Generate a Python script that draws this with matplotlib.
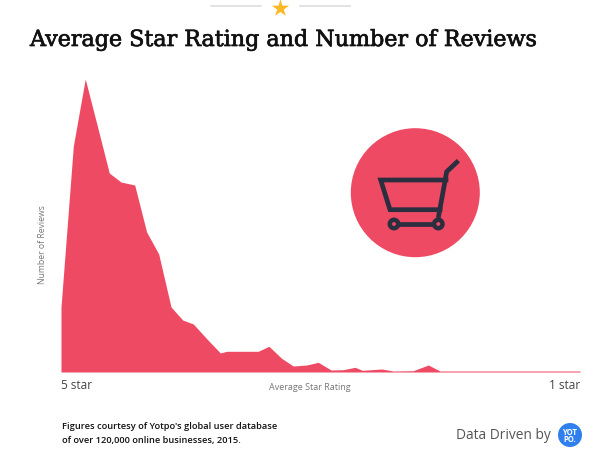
import matplotlib
matplotlib.use('Agg')
import matplotlib.pyplot as plt
import matplotlib.patheffects as pe
from matplotlib.patches import Circle

# values
ratings = [5.0, 4.905, 4.813, 4.72, 4.628, 4.538, 4.432, 4.34, 4.247, 4.152, 4.062, 3.98,
           3.875, 3.772, 3.723, 3.48, 3.397, 3.30, 3.21, 3.106, 3.017, 2.919, 2.824, 2.734,
           2.678, 2.528, 2.439, 2.285, 2.169, 2.079, 1.0]
reviews = [65, 226, 293, 246, 199, 190, 187, 140, 118, 65, 52, 48,
           33, 19, 20.7, 20.7, 25.7, 13.7, 6, 7, 9.7, 2, 2.3, 4.7,
           1.7, 3, 1, 1.3, 7, 1, 1]
x_tick_labels = ['5 star', '1 star']

W, H = 613, 464
red = '#EE4A64'
dark = '#2B2E3F'
plt.rcParams['font.family'] = ['Open Sans', 'DejaVu Sans']

fig = plt.figure(figsize=(W / 100, H / 100), dpi=100)

# overlay in pixel coordinates for the decoration
deco = fig.add_axes([0, 0, 1, 1])
deco.set_xlim(0, W)
deco.set_ylim(H, 0)
deco.axis('off')

# chart area
ax = fig.add_axes([61 / W, 1 - 373 / H, 519 / W, 293 / H])
ax.patch.set_alpha(0)
ax.fill_between(ratings, reviews, 0, color=red, lw=0)
ax.set_xlim(5, 1)
ax.set_ylim(0, 293)
for s in ax.spines.values():
    s.set_visible(False)
ax.set_yticks([])
ax.set_xticks([5, 1])
ax.set_xticklabels(x_tick_labels, fontsize=8.5, color='#444444')
ax.tick_params(axis='x', length=0, pad=4)
ax.get_xticklabels()[0].set_ha('left')
ax.get_xticklabels()[1].set_ha('right')
ax.set_xlabel('Average Star Rating', fontsize=6.5, color='#777777')
ax.xaxis.set_label_coords(249 / 519, -10 / 293)
ax.set_ylabel('Number of Reviews', fontsize=6.2, color='#777777')
ax.yaxis.set_label_coords(-14 / 519, 128 / 293)

# header
deco.plot([211, 261], [7, 7], color='#DDDDDD', lw=1.2)
deco.plot([300, 350], [7, 7], color='#DDDDDD', lw=1.2)
deco.scatter([280], [9], marker='*', s=170, color='#FDB827', lw=0)
title = deco.text(30, 41, 'Average Star Rating and Number of Reviews', fontsize=16,
                  family='DejaVu Serif', color='#111111', va='center', ha='left')
title.set_path_effects([pe.withStroke(linewidth=0.5, foreground='#111111')])

# cart icon
deco.add_patch(Circle((415.3, 193.7), 64.5, color=red, lw=0))
deco.plot([456.7, 446.7, 438.7], [163.3, 172.7, 216.7], color=dark, lw=3.4, solid_joinstyle='miter')
deco.plot([446, 380.7, 390, 440], [181, 181, 210.7, 210.7], color=dark, lw=3.4, solid_joinstyle='miter')
deco.plot([394, 438.3], [225, 225], color=dark, lw=3.4)
for cx in [394, 438.3]:
    deco.add_patch(Circle((cx, 225), 4.2, fc=red, ec=dark, lw=3.2, zorder=5))

# footer
deco.text(62, 427, "Figures courtesy of Yotpo's global user database", fontsize=6.65,
          weight='semibold', color='#111111', va='center')
deco.text(62, 441, 'of over 120,000 online businesses, 2015.', fontsize=6.65,
          weight='semibold', color='#111111', va='center')
deco.text(456, 436, 'Data Driven by', fontsize=9.9, color='#555555', va='center')
deco.add_patch(Circle((570, 436), 12, color='#2F80ED', lw=0))
deco.text(570, 436, 'YOT\nPO.', fontsize=5.5, weight='bold', color='white', ha='center', va='center',
          linespacing=0.85)

fig.savefig('out.png', dpi=100)
